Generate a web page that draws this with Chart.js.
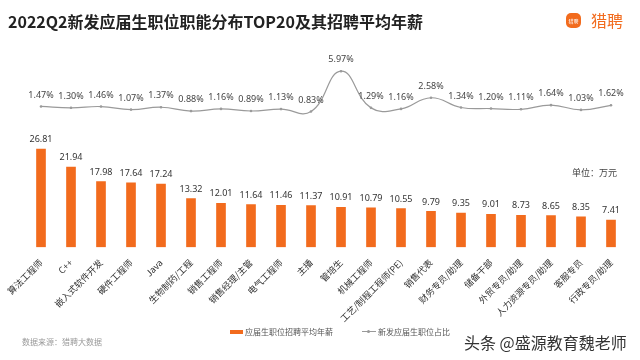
<!DOCTYPE html>
<html>
<head>
<meta charset="utf-8">
<script src="https://cdn.jsdelivr.net/npm/chart.js@4"></script>
<style>
  body { margin: 0; background: #fff; font-family: "Noto Sans CJK SC", "Noto Sans", sans-serif; }
  #wrap { position: relative; width: 640px; height: 360px; overflow: hidden; }
  #c { position: absolute; left: 0; top: 0; }
  .title { position: absolute; left: 8px; top: 9px; font-size: 16px; font-weight: bold; color: #222; }
  .logo { position: absolute; left: 566px; top: 12px; display: flex; align-items: center; }
  .logo .box { width: 15px; height: 15px; background: #f26b1d; border-radius: 5px; color: #fff; font-size: 5px; line-height: 15px; text-align: center; }
  .logo .txt { color: #f26b1d; font-size: 16px; margin-left: 10px; line-height: 16px; }
  .unit { position: absolute; left: 572px; top: 166px; font-size: 9px; color: #444; }
  .src { position: absolute; left: 22px; top: 336px; font-size: 8px; color: #999; }
  .legend { position: absolute; top: 326px; font-size: 8px; color: #555; display: flex; align-items: center; }
  .sw-bar { width: 13px; height: 4px; background: #f26b1d; margin-right: 2px; }
  .sw-line { width: 14px; height: 1px; background: #999; margin-right: 2px; position: relative; }
  .sw-line:after { content: ""; position: absolute; left: 5px; top: -1.5px; width: 3px; height: 3px; border-radius: 50%; background: #999; }
  .wm { position: absolute; left: 464px; top: 330px; font-size: 16px; color: #333; }
</style>
</head>
<body>
<div id="wrap">
  <canvas id="c" width="640" height="360"></canvas>
  <div class="title">2022Q2新发应届生职位职能分布TOP20及其招聘平均年薪</div>
  <div class="logo"><div class="box">猎聘</div><div class="txt">猎聘</div></div>
  <div class="unit">单位：万元</div>
  <div class="legend" style="left:230px"><div class="sw-bar"></div>应届生职位招聘平均年薪</div>
  <div class="legend" style="left:362px"><div class="sw-line"></div>新发应届生职位占比</div>
  <div class="src">数据来源：猎聘大数据</div>
  <div class="wm">头条 @盛源教育魏老师</div>
</div>
<script>
const jobs = ['算法工程师', 'C++', '嵌入式软件开发', '硬件工程师', 'Java', '生物制药/工程', '销售工程师',
  '销售经理/主管', '电气工程师', '主播', '管培生', '机械工程师', '工艺/制程工程师(PE)', '销售代表',
  '财务专员/助理', '储备干部', '外贸专员/助理', '人力资源专员/助理', '客服专员', '行政专员/助理'];
const salary = [26.81, 21.94, 17.98, 17.64, 17.24, 13.32, 12.01, 11.64, 11.46, 11.37,
  10.91, 10.79, 10.55, 9.79, 9.35, 9.01, 8.73, 8.65, 8.35, 7.41];
const share = [1.47, 1.30, 1.46, 1.07, 1.37, 0.88, 1.16, 0.89, 1.13, 0.83,
  5.97, 1.29, 1.16, 2.58, 1.34, 1.20, 1.11, 1.64, 1.03, 1.62];

// value labels drawn above bars and line points
const valueLabels = {
  id: 'valueLabels',
  afterDatasetsDraw(chart) {
    const ctx = chart.ctx;
    ctx.save();
    ctx.textAlign = 'center';
    ctx.textBaseline = 'bottom';
    ctx.font = '9px "Noto Sans", sans-serif';
    chart.getDatasetMeta(0).data.forEach((el, i) => {
      ctx.fillStyle = '#333';
      ctx.fillText(salary[i].toFixed(2), el.x, el.y - 5);
    });
    chart.getDatasetMeta(1).data.forEach((el, i) => {
      ctx.fillStyle = '#444';
      ctx.fillText(share[i].toFixed(2) + '%', el.x, el.y - 7);
    });
    ctx.restore();
  }
};

new Chart(document.getElementById('c'), {
  data: {
    labels: jobs,
    datasets: [{
      type: 'bar',
      data: salary,
      backgroundColor: '#f26b1d',
      barThickness: 9,
      yAxisID: 'y',
      order: 2
    }, {
      type: 'line',
      data: share,
      borderColor: '#9a9a9a',
      borderWidth: 1.2,
      tension: 0.45,
      pointRadius: 1.3,
      pointBackgroundColor: '#9a9a9a',
      pointBorderWidth: 0,
      yAxisID: 'y2',
      order: 1
    }]
  },
  options: {
    responsive: false,
    animation: false,
    layout: { padding: { left: 26, right: 14, top: 60, bottom: 34 } },
    plugins: { legend: { display: false }, tooltip: { enabled: false } },
    scales: {
      x: {
        grid: { display: false },
        border: { display: false },
        ticks: { color: '#333', font: { size: 9, family: '"Noto Sans CJK SC"' }, minRotation: 45, maxRotation: 45, padding: 2 }
      },
      y: { display: false, min: 0, max: 51.2 },
      y2: { display: false, min: -16.5, max: 7.4 }
    }
  },
  plugins: [valueLabels]
});
</script>
</body>
</html>
